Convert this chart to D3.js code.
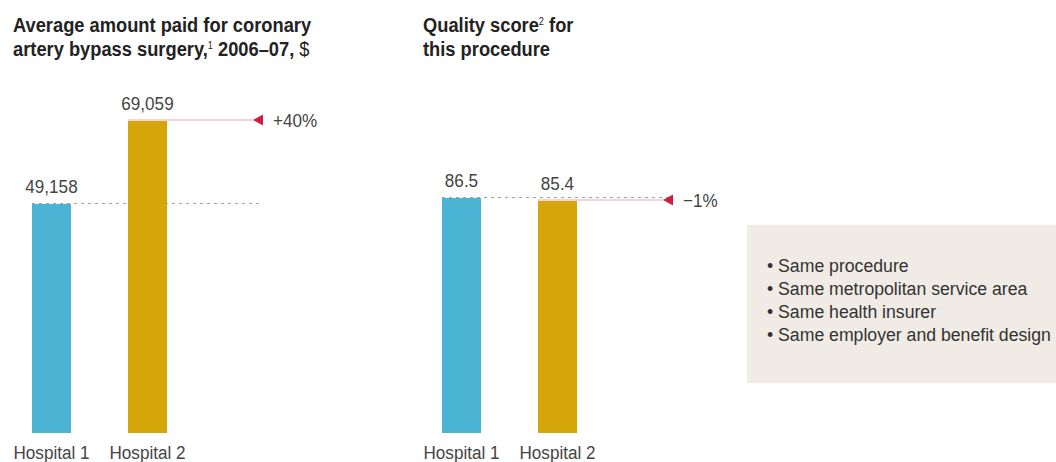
<!DOCTYPE html>
<html>
<head>
<meta charset="utf-8">
<script src="https://cdn.jsdelivr.net/npm/d3@7"></script>
<style>
  body { margin: 0; background: #fff; }
  svg text { font-family: "Liberation Sans", Arial, sans-serif; }
</style>
</head>
<body>
<script>
// Chart data
var hospitals = ["Hospital 1", "Hospital 2"];
var amountPaid = [49158, 69059];
var qualityScore = [86.5, 85.4];
var changeLabels = ["+40%", "\u22121%"];
var conditions = [
  "Same procedure",
  "Same metropolitan service area",
  "Same health insurer",
  "Same employer and benefit design"
];

var svgWidth = 1056;
var svgHeight = 462;
var colors = ["#4bb3d4", "#d4a60a"];
var baseY = 433;
var squeeze = 0.9; // narrow the type, the original uses a condensed face

var svg = d3.select("body")
  .append("svg")
  .attr("width", svgWidth)
  .attr("height", svgHeight);

// place a text at x,y and squeeze it horizontally
function at(x, y, sx) {
  return `translate(${x},${y}) scale(${sx || squeeze},1)`;
}

// Titles
var title1 = svg.append("text")
  .attr("transform", at(13, 32, 0.915))
  .style("font-size", "20px")
  .style("font-weight", "bold")
  .style("fill", "#222");
title1.append("tspan").text("Average amount paid for coronary");
title1.append("tspan").attr("x", 0).attr("dy", 24).text("artery bypass surgery,");
title1.append("tspan").attr("dy", -7).style("font-size", "10px").style("font-weight", "normal").text("1");
title1.append("tspan").attr("dy", 7).text(" 2006\u201307, ");
title1.append("tspan").style("font-weight", "normal").text("$");

var title2 = svg.append("text")
  .attr("transform", at(423, 32, 0.915))
  .style("font-size", "20px")
  .style("font-weight", "bold")
  .style("fill", "#222");
title2.append("tspan").text("Quality score");
title2.append("tspan").attr("dy", -7).style("font-size", "10px").style("font-weight", "normal").text("2");
title2.append("tspan").attr("dy", 7).text(" for");
title2.append("tspan").attr("x", 0).attr("dy", 24).text("this procedure");

// Draw one bar panel
function drawPanel(values, x0, yScale, format, changeLabel, refEnd) {
  var x = d3.scaleBand()
    .domain(hospitals)
    .range([x0, x0 + 135])
    .paddingInner(0.59375);

  var g = svg.append("g");
  var ref = yScale(values[0]);
  var top2 = yScale(values[1]);

  // dashed reference line at hospital 1 level
  g.append("line")
    .attr("x1", x(hospitals[0]))
    .attr("x2", refEnd)
    .attr("y1", ref + 0.5)
    .attr("y2", ref + 0.5)
    .attr("stroke", "#a0a0a0")
    .attr("stroke-width", 1)
    .attr("stroke-dasharray", "3,4");

  // bars
  g.selectAll("rect")
    .data(values)
    .enter()
    .append("rect")
    .attr("x", (d, i) => x(hospitals[i]))
    .attr("y", d => yScale(d) + 1)
    .attr("width", x.bandwidth())
    .attr("height", d => baseY - yScale(d) - 1)
    .attr("fill", (d, i) => colors[i]);

  // value labels
  g.selectAll(".val")
    .data(values)
    .enter()
    .append("text")
    .attr("transform", (d, i) => at(x(hospitals[i]) + x.bandwidth() / 2, yScale(d) - 10))
    .attr("text-anchor", "middle")
    .style("font-size", "19px")
    .style("fill", "#444")
    .text(format);

  // category labels
  g.selectAll(".cat")
    .data(hospitals)
    .enter()
    .append("text")
    .attr("transform", d => at(x(d) + x.bandwidth() / 2, 459))
    .attr("text-anchor", "middle")
    .style("font-size", "19px")
    .style("fill", "#444")
    .text(d => d);

  // red change line with arrowhead
  g.append("line")
    .attr("x1", x(hospitals[1]))
    .attr("x2", refEnd - 10)
    .attr("y1", top2)
    .attr("y2", top2)
    .attr("stroke", "#f0a9b4")
    .attr("stroke-width", 1.2);
  g.append("path")
    .attr("d", `M${refEnd - 10},${top2}L${refEnd},${top2 - 5.5}L${refEnd},${top2 + 5.5}Z`)
    .attr("fill", "#cf1f3a");
  g.append("text")
    .attr("transform", at(refEnd + 10, top2 + 7))
    .style("font-size", "19px")
    .style("fill", "#444")
    .text(changeLabel);
}

// Left panel: amount paid
var yPaid = d3.scaleLinear()
  .domain([-6000, d3.max(amountPaid)])
  .range([baseY, 120]);
drawPanel(amountPaid, 32, yPaid, d3.format(","), changeLabels[0], 263);

// Right panel: quality score
var yScore = d3.scaleLinear()
  .domain([0, d3.max(qualityScore)])
  .range([baseY, 197]);
drawPanel(qualityScore, 442, yScore, d3.format(".1f"), changeLabels[1], 673);

// Conditions box
svg.append("rect")
  .attr("x", 747)
  .attr("y", 225)
  .attr("width", 320)
  .attr("height", 158)
  .attr("fill", "#f0ebe5");

var items = svg.append("g");
items.selectAll("text")
  .data(conditions)
  .enter()
  .append("text")
  .attr("transform", (d, i) => at(767, 272 + i * 23, 0.93))
  .style("font-size", "19px")
  .style("fill", "#333")
  .text(d => "\u2022 " + d);
</script>
</body>
</html>
